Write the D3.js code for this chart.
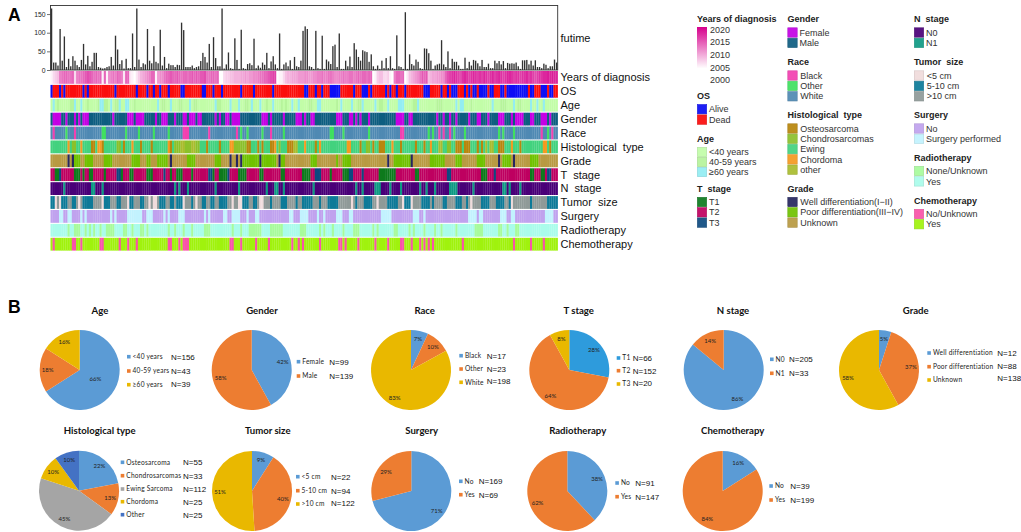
<!DOCTYPE html>
<html><head><meta charset="utf-8">
<script src="https://cdn.jsdelivr.net/npm/d3@7"></script>
<style>html,body{margin:0;padding:0;background:#fff}svg{display:block}</style></head>
<body><svg id="c" width="1021" height="532"></svg>
<script>
// ---------- DATA: heat map ----------
const futime = [165,20,20,12,110,25,90,8,30,10,37,25,13,8,27,70,15,38,10,22,46,46,8,6,4,5,8,10,35,12,
92,55,16,26,4,30,5,5,98,8,165,28,8,18,15,110,25,18,64,22,18,108,12,35,5,17,13,13,8,14,
13,127,107,8,8,8,12,5,8,10,24,46,35,20,70,8,88,32,10,10,165,4,15,47,5,3,85,27,3,108,
5,3,16,18,13,84,5,12,6,20,14,46,5,23,37,15,5,98,3,15,20,10,26,3,35,10,8,25,105,117,
110,10,8,3,105,5,3,92,3,28,23,16,64,68,8,98,3,3,25,10,36,8,72,55,35,25,53,50,48,22,
42,10,3,12,3,25,5,32,5,37,5,3,93,10,8,3,155,3,42,16,12,28,22,5,3,58,57,45,25,3,
12,15,17,80,15,8,50,5,30,22,22,12,3,3,33,5,22,12,27,25,18,10,27,8,8,17,5,5,25,18,
24,15,24,5,19,17,18,17,20,10,3,26,26,27,15,25,12,26,8,8,5,17,14,5,10,10,28,20];
const years = [2001,2003,2004,2005,2010,2011,2012,2012,2011,2011,2012,2003,2010,2011,2011,2012,2013,2014,2013,2012,
2011,2012,2011,2012,2001,2012,2001,2009,2010,2011,2010,2012,2011,2010,2002,2012,2012,2002,2001,2000,
2002,2004,2006,2007,2008,2009,2010,2012,2012,2001,2008,2009,2009,2011,2012,2012,2013,2012,2012,2013,
2012,2011,2012,2012,2011,2012,2013,2012,2013,2012,2013,2013,2014,2011,2011,2012,2012,2011,2012,2000,
2000,2003,2004,2004,2005,2005,2006,2006,2006,2007,2007,2008,2007,2008,2008,2009,2009,2010,2011,2011,
2012,2012,2013,2014,2015,2015,2000,2001,2001,2003,2005,2006,2006,2007,2007,2007,2008,2008,2008,2009,
2009,2008,2008,2009,2009,2010,2010,2011,2010,2010,2011,2011,2010,2009,2009,2010,2010,2011,2010,2010,
2011,2011,2010,2011,2012,2011,2012,2012,2011,2012,2012,2000,2001,2004,2005,2005,2003,2003,2004,2001,
2000,2010,2012,2012,2011,2012,2000,2002,2005,2006,2007,2008,2009,2011,2013,2012,2013,2005,2006,2007,
2007,2008,2008,2009,2009,2012,2014,2015,2016,2017,2016,2015,2014,2016,2017,2016,2015,2016,2017,2016,
2015,2016,2015,2017,2016,2015,2016,2017,2015,2016,2017,2016,2015,2016,2017,2017,2016,2015,2016,2016,
2015,2016,2016,2017,2015,2016,2015,2014,2015,2016,2016,2017,2017,2018,2017,2018,2017,2017];
const rowNames = ["OS","Age","Gender","Race","Histological  type","Grade","T  stage","N  stage","Tumor  size","Surgery","Radiotherapy","Chemotherapy"];
// column lists; [a,b] means columns a through b
const osAlive = [0,4,6,15,17,30,40,45,48,51,55,[61,62],[71,72],76,80,89,95,104,[119,120],124,127,[131,133],[134,135],142,[146,148],150,157,159,162,166,[175,177],183,186,[188,190],194,196,[198,199],[201,204],[206,207],[211,212],[214,223],[225,226],[230,232],[234,235]];
const ageOld = [1,11,14,[23,24],28,32,[35,36],50,56,65,84,88,94,98,113,116,[125,126],136,141,152,158,[163,165],190,[192,193],207,217,225,228,231,77,104,146,172];
const ageMid = [3,9,10,17,22,25,26,30,31,39,[52,53],60,61,67,68,[78,79],91,92,101,108,110,[121,122],134,[144,145],[154,155],[170,171],[181,183],197,[211,213],219,220];
const female = [[1,4],7,11,13,[15,17],29,[36,38],[40,43],49,[52,54],58,[62,63],[65,67],[69,70],77,79,[82,83],[85,86],[87,88],[99,101],103,109,[115,117],119,[122,123],[134,136],[140,141],143,145,149,[162,165],[168,169],181,184,187,190,196,[200,201],205,[210,212],216,[218,221],[225,226],[230,232],234];
const raceBlack = [1,11,62,[63,64],74,87,103,[164,165],182,184,187,230,235];
const raceOther = [7,[24,25],35,41,48,55,89,92,99,109,131,132,137,149,177,179,189,194,210,212,217,233];
const histOsteo = [[19,20],24,34,42,47,56,73,79,[92,93],97,99,[103,104],[111,113],124,145,[154,156],151,164,171,175,[190,192],[194,196],200,202,[210,212],220,234];
const histChondro = [10,11,[31,32],[58,60],[63,65],[68,69],[86,91],107,[186,187],[148,149]];
const histChordoma = [8,14,[22,23],38,55,84,85,105,119,126,[139,140],160,178,216,[231,232]];
const histOther = [[61,62],[66,67],[114,115],[182,183],204,[206,207]];
const gradeWell = [8,10,56,84,87,89,98,107,158,169,210,217];
const gradePoor = [[11,13],[16,19],[25,28],[38,41],[45,46],[50,54],[64,67],[77,79],[90,97],[99,105],[108,109],[122,124],134,[137,140],[161,168],[178,184],[212,215],[190,192],[200,203],[225,228]];
const tOne = [[2,3],[11,13],15,[18,19],25,33,[37,38],[45,47],56,[59,61],66,76,[79,82],[88,91],[98,99],[108,109],[118,121],131,[137,139],[154,161],[171,172],[202,204],[225,226],[230,231]];
const tThree = [4,[31,32],53,[74,75],83,[124,126],[140,141],146,[186,187],208,[233,234]];
const nOne = [6,[19,20],24,58,60,64,77,88,101,[105,106],109,123,143,146,[152,154],159,164,173,176,180,[187,190],198,[212,213],215,220];
const sizeSmall = [2,4,13,24,36,46,48,49,62,68,85,[88,89],[98,99],141,153,165,169,197,216];
const sizeMid = [[0,1],[5,7],[10,11],[15,18],19,[25,27],[31,32],[37,38],[42,43],[51,53],[56,57],[59,61],66,[71,72],[75,76],[79,82],[90,92],[95,96],103,[108,110],115,[118,122],126,130,[131,134],143,[147,150],[158,162],[166,168],[174,177],179,[184,185],[190,192],195,[202,205],[209,212],215,225,[233,237]];
const surgeryYes = [[4,5],[8,9],14,16,28,30,[36,42],[45,47],53,55,[60,62],72,74,[81,82],[85,88],92,[96,97],[112,113],[117,120],125,128,[134,136],[140,141],[155,159],[170,172],175,[196,199],[201,202],[211,213],[216,217],[232,235]];
const radioNone = [8,[11,13],16,18,20,23,[26,29],[34,35],38,[42,43],45,55,58,62,66,[72,74],85,89,[93,98],[103,108],[117,119],126,128,132,137,[142,144],151,153,[161,162],168,170,175,180,183,190,[199,202],[210,211],214,[218,219]];
const chemoNo = [1,[10,11],14,[23,24],32,36,40,[55,56],60,[62,64],[84,85],89,96,102,113,116,118,126,[135,136],138,144,152,158,[164,165],169,173,175,177,179,193,217,225,231];

// ---------- DATA: legend ----------
const yearTicks = [2020,2015,2010,2005,2000];
const legendGroups = ["OS","Age","T  stage","Gender","Race","Histological  type","Grade","N  stage","Tumor  size","Surgery","Radiotherapy","Chemotherapy"];
const legendItems = [["Alive","Dead"],["<40 years","40-59 years","≥60 years"],["T1","T2","T3"],["Female","Male"],["Black","Other","White"],["Osteosarcoma","Chondrosarcomas","Ewing","Chordoma","other"],["Well differentiation(I−II)","Poor differentiation(III−IV)","Unknown"],["N0","N1"],["<5 cm","5-10 cm",">10 cm"],["No","Surgery performed"],["None/Unknown","Yes"],["No/Unknown","Yes"]];

// ---------- DATA: pies ----------
const pieTitles = ["Age","Gender","Race","T stage","N stage","Grade","Histological type","Tumor size","Surgery","Radiotherapy","Chemotherapy"];
const pieLabels = [["<40 years","40-59 years","≥60 years"],["Female","Male"],["Black","Other","White"],["T1","T2","T3"],["N0","N1"],["Well differentiation","Poor differentiation","Unknown"],["Osteosarcoma","Chondrosarcomas","Ewing Sarcoma","Chordoma","Other"],["<5 cm","5-10 cm",">10 cm"],["No","Yes"],["No","Yes"],["No","Yes"]];
const piePercent = [[66,18,16],[42,58],[7,10,83],[28,64,8],[86,14],[5,37,58],[22,13,45,10,10],[9,40,51],[71,29],[38,62],[16,84]];
const pieN = [[156,43,39],[99,139],[17,23,198],[66,152,20],[205,33],[12,88,138],[55,33,112,25,25],[22,94,122],[169,69],[91,147],[39,199]];

// ---------- LAYOUT ----------
const svg = d3.select("#c");
const SANS = "'Liberation Sans',Arial,sans-serif", CAL = "Lato,'Open Sans',sans-serif";
const plot = {l:50.5,r:557.7,t:5.5,b:70};
const heatTop = 71, heatStep = 13.9, heatH = 12.8;
const cols = d3.range(futime.length);
const x = d3.scaleBand().domain(cols).range([plot.l,plot.r]).padding(0);
const y = d3.scaleLinear().domain([0,173]).range([plot.b,plot.t]);
const expand = l => l.flatMap(v => Array.isArray(v) ? d3.range(v[0],v[1]+1) : [v]);
const yearColor = d3.scaleLinear().domain([2000,2020]).range(["#ffffff","#d6008c"]);

const C = {
 os:{Alive:"#0a0cf5",Dead:"#fb0a0a"},
 age:["#c2fda8","#b6f49b","#93edf2"],
 gender:["#c400e4","#0e5d80"],
 race:["#f23fb0","#3fe05f","#4f89b3"],
 hist:["#b8860b","#8cc02c","#43d27e","#f59a20","#a9bc2e"],
 grade:["#25255e","#6fc200","#b89a42"],
 t:["#0d7a1e","#be0060","#0e4a80"],
 n:["#4a0078","#0f9a84"],
 size:["#f0dcdc","#0b7a98","#8f9a98"],
 surg:["#c0a2ee","#c2f2fe"],
 radio:["#a8fb9c","#aafceb"],
 chemo:["#f952a8","#a0f20c"]
};
function mk(bg, ...pairs){ const a = cols.map(()=>bg); pairs.forEach(([l,col])=>expand(l).forEach(i=>{a[i]=col})); return a; }
const rows = [
 mk(C.os.Dead,[osAlive,C.os.Alive]),
 mk(C.age[0],[ageMid,C.age[1]],[ageOld,C.age[2]]),
 mk(C.gender[1],[female,C.gender[0]]),
 mk(C.race[2],[raceBlack,C.race[0]],[raceOther,C.race[1]]),
 mk(C.hist[2],[histOsteo,C.hist[0]],[histChondro,C.hist[1]],[histChordoma,C.hist[3]],[histOther,C.hist[4]]),
 mk(C.grade[2],[gradePoor,C.grade[1]],[gradeWell,C.grade[0]]),
 mk(C.t[1],[tOne,C.t[0]],[tThree,C.t[2]]),
 mk(C.n[0],[nOne,C.n[1]]),
 mk(C.size[2],[sizeMid,C.size[1]],[sizeSmall,C.size[0]]),
 mk(C.surg[0],[surgeryYes,C.surg[1]]),
 mk(C.radio[1],[radioNone,C.radio[0]]),
 mk(C.chemo[1],[chemoNo,C.chemo[0]])
];

const defs = svg.append("defs");
defs.append("filter").attr("id","soft").attr("filterUnits","userSpaceOnUse").attr("x",0).attr("y",0).attr("width",1021).attr("height",532)
 .append("feGaussianBlur").attr("stdDeviation","0.45 0.2");

// panel letters
svg.selectAll(".pl").data([["A",20.5],["B",312.5]]).join("text").attr("x",8).attr("y",d=>d[1]).text(d=>d[0])
 .attr("font-family",SANS).attr("font-weight",700).attr("font-size",17.5).attr("fill","#000");

// bar strip
const gTop = svg.append("g");
gTop.append("g").attr("filter","url(#soft)").selectAll("rect").data(cols).join("rect")
 .attr("x",i=>x(i)+0.4).attr("width",1.35).attr("y",i=>y(futime[i])).attr("height",i=>plot.b-y(futime[i])).attr("fill","#333");
gTop.append("rect").attr("x",plot.l).attr("y",plot.t).attr("width",plot.r-plot.l).attr("height",plot.b-plot.t)
 .attr("fill","none").attr("stroke","#333").attr("stroke-width",0.9);
const ax = svg.append("g").attr("transform",`translate(${plot.l},0)`).call(d3.axisLeft(y).tickValues([0,50,100,150]).tickSize(3.5).tickPadding(1.5));
ax.select(".domain").remove();
ax.selectAll("line").attr("stroke","#333").attr("stroke-width",.7);
ax.selectAll("text").attr("font-family",SANS).attr("font-size",6.8).attr("fill","#222");
const rowLabel=(t,yy)=>svg.append("text").attr("x",560.5).attr("y",yy).attr("dy","0.35em").text(t).style("white-space","pre")
 .attr("font-family",SANS).attr("font-size",11).attr("fill","#111");
rowLabel("futime",38);

// heat rows
const heatG = svg.append("g").attr("filter","url(#soft)");
heatG.append("g").selectAll("rect").data(cols).join("rect").attr("x",i=>x(i)).attr("width",x.bandwidth()+.2)
 .attr("y",heatTop).attr("height",heatH).attr("fill",i=>yearColor(years[i]));
rowLabel("Years of diagnosis",heatTop+heatH/2);
rows.forEach((r,ri)=>{
 const yy = heatTop+heatStep*(ri+1);
 heatG.append("g").selectAll("rect").data(cols).join("rect").attr("x",i=>x(i)).attr("width",x.bandwidth()+.2)
  .attr("y",yy).attr("height",heatH).attr("fill",i=>r[i]);
 rowLabel(rowNames[ri],yy+heatH/2);
});

// legend
const lg = svg.append("g");
const lt=(t,xx,yy,bold)=>lg.append("text").attr("x",xx).attr("y",yy).attr("dy","0.35em").text(t).style("white-space","pre")
 .attr("font-family",SANS).attr("font-size",9).attr("font-weight",bold?700:400).attr("fill",bold?"#222":"#333");
lt("Years of diagnosis",697,19,true);
const grad = defs.append("linearGradient").attr("id","yg").attr("x1",0).attr("x2",0).attr("y1",0).attr("y2",1);
grad.selectAll("stop").data([0,1]).join("stop").attr("offset",d=>d).attr("stop-color",d=>yearColor(2020-d*20));
lg.append("rect").attr("x",697).attr("y",27).attr("width",10).attr("height",41.5).attr("fill","url(#yg)");
const yearAxisY = d3.scaleLinear().domain([2020,2000]).range([29.5,80]);
lg.selectAll(".yt").data(yearTicks).join("text").attr("x",710).attr("y",d=>yearAxisY(d)).attr("dy","0.35em").text(d=>d)
 .attr("font-family",SANS).attr("font-size",9).attr("fill","#333");
const legendColors = [[C.os.Alive,C.os.Dead],C.age,C.t,C.gender,C.race,C.hist,C.grade,C.n,C.size,C.surg,C.radio,C.chemo];
const legendX = [697,697,697,787.5,787.5,787.5,787.5,914,914,914,914,914];
const legendTitleY = [95.7,138.5,188.5,19,62,115,188.5,19,62,115,157.5,200.5];
const legendGap = [10.4,10,10.3,10.4,10.4,10.3,10.3,10.4,10.4,10.4,10.4,10.2];
legendGroups.forEach((g,i)=>{
 const xx=legendX[i], ty=legendTitleY[i];
 lt(g,xx,ty,true);
 legendItems[i].forEach((t,j)=>{
  const cy=ty+13.5+j*legendGap[i], col=legendColors[i][j];
  lg.append("rect").attr("x",xx+.3).attr("y",cy-4.7).attr("width",9.4).attr("height",9.4).attr("fill",col)
    .attr("stroke",d3.color(col).darker(.35)).attr("stroke-width",.6).attr("opacity",.92);
  lt(t,xx+ (i==4||i==5||i==6||i==8?12.8:12),cy,false);
 });
});

// pies
const pieCX=[79.7,251.7,411,569.3,723.7,879,79,252,411.3,567.3,722.7];
const pieCY=[370,370,370,370,370,370,490.7,491,491,491,491];
const titleCX=[100,262,424.7,578.7,733,915.7,99.7,267.7,421.7,577.7,732.7];
const titleCY=[310.7,310.7,310.7,310.7,310.7,310.7,431,431,431,431,431];
const swX=[127,296.7,459.3,616.7,770,927.3,120.7,296,459,615.3,769.3];
const nX=[171,329.3,486.7,632.7,789,997.3,183,331,478.7,635.3,790.3];
const rowYs=[[356.7,371,384.7],[361.7,376],[355.7,369,382.3],[358,370.7,384],[359.3,373.3],[353,366.7,380],[462.3,475.7,489,501.7,514.7],[476.7,490.7,504],[481.3,494.7],[483,496.7],[486,500]];
const nYs=[[356.7,371,384],[361.7,376],[355.7,369,381],[358.5,370.7,382.7],[359.3,373.3],[353,366,378],[462.3,475.7,489,501.7,514.7],[476.7,490.7,503],[481.3,494.7],[483,496.7],[486,500]];
const pal=["#5b9bd5","#ed7d31","#e9b800"];
const palByPie={3:["#2e9bdc","#ed7d31","#e9b800"],6:["#5b9bd5","#ed7d31","#a5a5a5","#e9b800","#4472c4"]};
const R=40, pct=d3.pie().sort(null).value(d=>d);
const arc=d3.arc().innerRadius(0).outerRadius(R);
pieTitles.forEach((t,i)=>{
 const g=svg.append("g");
 g.append("text").attr("x",titleCX[i]).attr("y",titleCY[i]).attr("dy","0.35em").attr("text-anchor","middle").text(t)
  .attr("font-family",CAL).attr("font-weight",700).attr("font-size",9.6).attr("fill","#111");
 const cols2 = palByPie[i]||pal;
 const p=g.append("g").attr("transform",`translate(${pieCX[i]},${pieCY[i]})`);
 const arcs=pct(piePercent[i]);
 p.selectAll("path").data(arcs).join("path").attr("d",arc).attr("fill",(d,j)=>cols2[j]);
 p.selectAll("text").data(arcs).join("text").each(function(d,j){
   const a=(d.startAngle+d.endAngle)/2, r=(i==0&&j==0)?18:32;
   d3.select(this).attr("x",Math.sin(a)*r).attr("y",-Math.cos(a)*r);
  }).attr("dy","0.35em").attr("text-anchor","middle").text(d=>d.data+"%")
  .attr("font-family",CAL).attr("font-size",6).attr("fill","#222");
 pieLabels[i].forEach((l,j)=>{
  g.append("rect").attr("x",swX[i]).attr("y",rowYs[i][j]-1.8).attr("width",3.6).attr("height",3.6).attr("fill",cols2[j]);
  g.append("text").attr("x",swX[i]+5.6).attr("y",rowYs[i][j]).attr("dy","0.35em").text(l)
   .attr("font-family",CAL).attr("font-size",6.6).attr("letter-spacing",.2).attr("fill","#222");
  g.append("text").attr("x",nX[i]).attr("y",nYs[i][j]).attr("dy","0.35em").text("N="+pieN[i][j])
   .attr("font-family",SANS).attr("font-size",8).attr("fill","#111");
 });
});
</script></body></html>
